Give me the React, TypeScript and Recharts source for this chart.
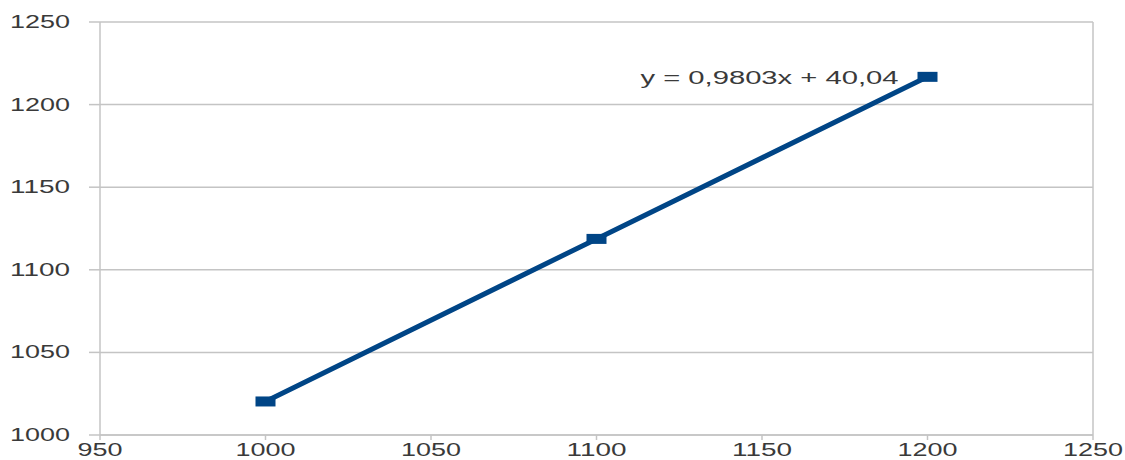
import React from 'react';
import { LineChart, Line, XAxis, YAxis, CartesianGrid, ReferenceLine } from 'recharts';

const xValues = [1000, 1100, 1200];
const yValues = [1020.3, 1118.7, 1216.8];
const xTicks = [950, 1000, 1050, 1100, 1150, 1200, 1250];
const yTicks = [1000, 1050, 1100, 1150, 1200, 1250];
const trendLabel = 'y = 0,9803x + 40,04';

const data = xValues.map((x, i) => ({ x, y: yValues[i] }));

const LINE_COLOR = '#004586';
const GRID_COLOR = '#c4c4c4';
const TEXT_COLOR = '#3a3a3a';
const FONT = '"Liberation Sans", Arial, sans-serif';

const YTick = ({ x, y, payload }: any) => {
  const s = String(payload.value);
  return (
    <text x={x - 17} y={y} dy={6} textAnchor="end" fill={TEXT_COLOR} fontFamily={FONT} fontSize={18}
      textLength={s.length * 15} lengthAdjust="spacingAndGlyphs">
      {s}
    </text>
  );
};

const XTick = ({ x, y, payload }: any) => {
  const s = String(payload.value);
  return (
    <text x={x} y={y} dy={14} textAnchor="middle" fill={TEXT_COLOR} fontFamily={FONT} fontSize={18}
      textLength={s.length * 15} lengthAdjust="spacingAndGlyphs">
      {s}
    </text>
  );
};

const SquareDot = ({ cx, cy, index }: any) => (
  <rect key={`dot-${index}`} x={cx - 10} y={cy - 5} width={20} height={10} fill={LINE_COLOR} />
);

const TrendLabel = ({ x, y, index }: any) => {
  if (index !== xValues.length - 1) return null;
  return (
    <text x={x - 29} y={y} dy={7} textAnchor="end" fill={TEXT_COLOR} fontFamily={FONT} fontSize={18}
      textLength={258} lengthAdjust="spacingAndGlyphs">
      {trendLabel}
    </text>
  );
};

export default function App() {
  return (
    <div style={{ position: 'absolute', left: 0, top: 0, background: '#fff' }}>
      <LineChart width={1125} height={460} data={data} margin={{ top: 22, right: 32, left: 0, bottom: 0 }}>
        <CartesianGrid vertical={false} stroke={GRID_COLOR} strokeWidth={1.5} />
        <XAxis
          dataKey="x"
          type="number"
          domain={[950, 1250]}
          ticks={xTicks}
          height={25}
          stroke={GRID_COLOR}
          strokeWidth={1.5}
          tickSize={5}
          tick={<XTick />}
        />
        <YAxis
          type="number"
          domain={[1000, 1250]}
          ticks={yTicks}
          width={100}
          stroke={GRID_COLOR}
          strokeWidth={1.5}
          tickSize={11}
          tick={<YTick />}
        />
        <ReferenceLine x={1250} stroke={GRID_COLOR} strokeWidth={1.5} />
        <Line
          dataKey="y"
          stroke={LINE_COLOR}
          strokeWidth={5}
          dot={<SquareDot />}
          activeDot={false}
          label={<TrendLabel />}
          isAnimationActive={false}
        />
      </LineChart>
    </div>
  );
}
